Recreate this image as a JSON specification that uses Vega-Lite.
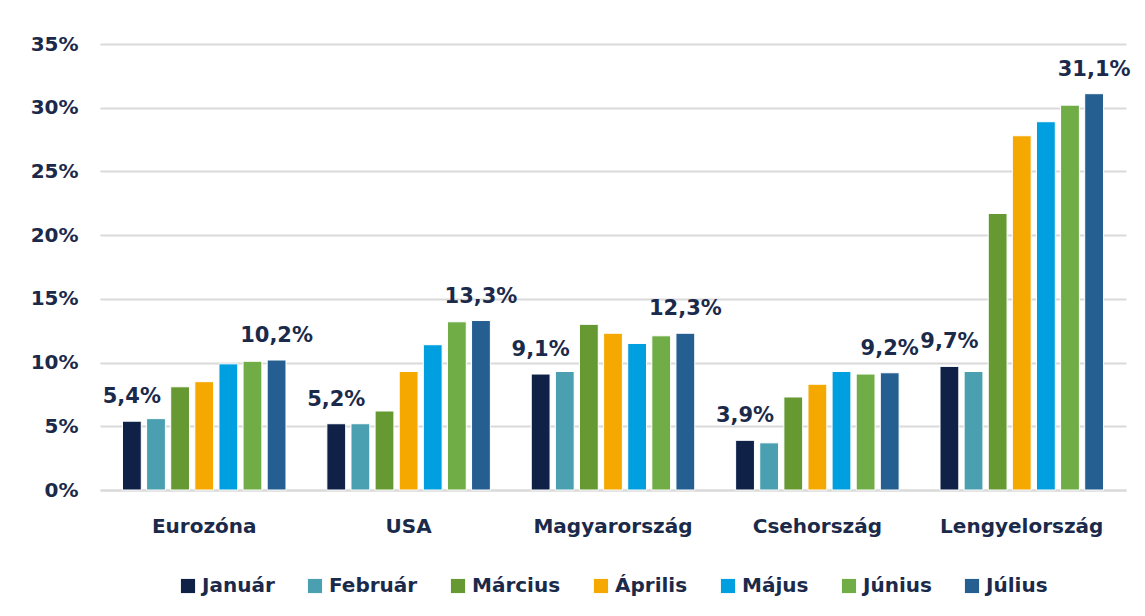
{
  "$schema": "https://vega.github.io/schema/vega-lite/v6.json",
  "autosize": {"type": "fit", "contains": "padding"},
  "width": 1145,
  "height": 616,
  "padding": {"left": 30, "top": 34, "right": 18, "bottom": 20},
  "background": "white",
  "config": {
    "view": {"stroke": null},
    "font": "DejaVu Sans",
    "axis": {"labelFont": "DejaVu Sans", "labelFontWeight": "bold", "labelColor": "#1b2a4a", "labelFontSize": 20},
    "legend": {"layout": {"bottom": {"anchor": "middle"}}}
  },
  "data": {
    "values": [
      {"orszag": "Eurozóna", "honap": "Január", "ertek": 5.4},
      {"orszag": "Eurozóna", "honap": "Február", "ertek": 5.6},
      {"orszag": "Eurozóna", "honap": "Március", "ertek": 8.1},
      {"orszag": "Eurozóna", "honap": "Április", "ertek": 8.5},
      {"orszag": "Eurozóna", "honap": "Május", "ertek": 9.9},
      {"orszag": "Eurozóna", "honap": "Június", "ertek": 10.1},
      {"orszag": "Eurozóna", "honap": "Július", "ertek": 10.2},
      {"orszag": "USA", "honap": "Január", "ertek": 5.2},
      {"orszag": "USA", "honap": "Február", "ertek": 5.2},
      {"orszag": "USA", "honap": "Március", "ertek": 6.2},
      {"orszag": "USA", "honap": "Április", "ertek": 9.3},
      {"orszag": "USA", "honap": "Május", "ertek": 11.4},
      {"orszag": "USA", "honap": "Június", "ertek": 13.2},
      {"orszag": "USA", "honap": "Július", "ertek": 13.3},
      {"orszag": "Magyarország", "honap": "Január", "ertek": 9.1},
      {"orszag": "Magyarország", "honap": "Február", "ertek": 9.3},
      {"orszag": "Magyarország", "honap": "Március", "ertek": 13.0},
      {"orszag": "Magyarország", "honap": "Április", "ertek": 12.3},
      {"orszag": "Magyarország", "honap": "Május", "ertek": 11.5},
      {"orszag": "Magyarország", "honap": "Június", "ertek": 12.1},
      {"orszag": "Magyarország", "honap": "Július", "ertek": 12.3},
      {"orszag": "Csehország", "honap": "Január", "ertek": 3.9},
      {"orszag": "Csehország", "honap": "Február", "ertek": 3.7},
      {"orszag": "Csehország", "honap": "Március", "ertek": 7.3},
      {"orszag": "Csehország", "honap": "Április", "ertek": 8.3},
      {"orszag": "Csehország", "honap": "Május", "ertek": 9.3},
      {"orszag": "Csehország", "honap": "Június", "ertek": 9.1},
      {"orszag": "Csehország", "honap": "Július", "ertek": 9.2},
      {"orszag": "Lengyelország", "honap": "Január", "ertek": 9.7},
      {"orszag": "Lengyelország", "honap": "Február", "ertek": 9.3},
      {"orszag": "Lengyelország", "honap": "Március", "ertek": 21.7},
      {"orszag": "Lengyelország", "honap": "Április", "ertek": 27.8},
      {"orszag": "Lengyelország", "honap": "Május", "ertek": 28.9},
      {"orszag": "Lengyelország", "honap": "Június", "ertek": 30.2},
      {"orszag": "Lengyelország", "honap": "Július", "ertek": 31.1}
    ]
  },
  "encoding": {
    "x": {
      "field": "orszag", "type": "nominal", "sort": null, "title": null,
      "scale": {"paddingInner": 0.2, "paddingOuter": 0.11},
      "axis": {"labelAngle": 0, "ticks": false, "labelPadding": 26, "domainColor": "#d9d9d9", "domainWidth": 2}
    },
    "xOffset": {
      "field": "honap", "type": "nominal",
      "sort": ["Január", "Február", "Március", "Április", "Május", "Június", "Július"],
      "scale": {"paddingInner": 0.22, "paddingOuter": 0}
    },
    "y": {
      "field": "ertek", "type": "quantitative", "title": null,
      "scale": {"domain": [0, 35]},
      "axis": {"values": [0, 5, 10, 15, 20, 25, 30, 35], "labelExpr": "datum.value + '%'", "domain": false, "ticks": false, "labelPadding": 22, "gridColor": "#d9d9d9", "gridWidth": 2}
    }
  },
  "layer": [
    {
      "mark": {"type": "bar", "stroke": "white", "strokeWidth": 1},
      "encoding": {
        "color": {
          "field": "honap", "type": "nominal", "title": null,
          "scale": {
            "domain": ["Január", "Február", "Március", "Április", "Május", "Június", "Július"],
            "range": ["#0f2147", "#4a9fb0", "#679933", "#f5a800", "#009fdf", "#70ad47", "#255e91"]
          },
          "legend": {
            "orient": "bottom", "direction": "horizontal", "symbolType": "square", "symbolSize": 200,
            "symbolStrokeWidth": 0, "labelFont": "DejaVu Sans", "labelFontSize": 20, "labelFontWeight": "bold",
            "labelColor": "#1b2a4a", "columnPadding": 30, "labelOffset": 4, "offset": 40
          }
        }
      }
    },
    {
      "transform": [
        {"filter": "datum.honap === 'Január' || datum.honap === 'Július'"},
        {"calculate": "replace(format(datum.ertek, '.1f'), '.', ',') + '%'", "as": "cimke"}
      ],
      "mark": {"type": "text", "baseline": "bottom", "dy": -14, "font": "DejaVu Sans", "fontSize": 21, "fontWeight": "bold", "color": "#1b2a4a"},
      "encoding": {"text": {"field": "cimke"}}
    }
  ]
}
